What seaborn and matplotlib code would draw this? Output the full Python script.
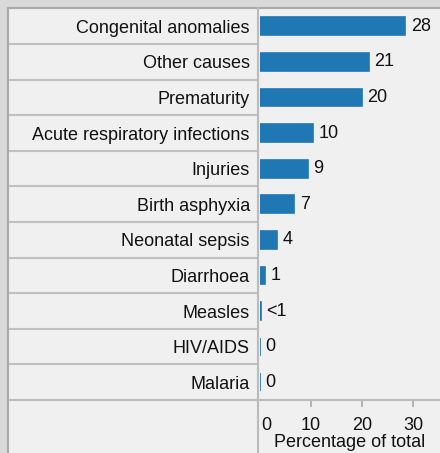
import pandas as pd
import numpy as np
import matplotlib
matplotlib.use("Agg")
import matplotlib.pyplot as plt
import matplotlib.transforms as mtransforms
from matplotlib.patches import Rectangle
from matplotlib.lines import Line2D
import seaborn as sns

# data
causes = ["Congenital anomalies", "Other causes", "Prematurity",
          "Acute respiratory infections", "Injuries", "Birth asphyxia",
          "Neonatal sepsis", "Diarrhoea", "Measles", "HIV/AIDS", "Malaria"]
values = [28.4, 21.3, 20.0, 10.4, 9.4, 6.8, 3.5, 1.0, 0.3, 0.0, 0.0]
value_labels = ["28", "21", "20", "10", "9", "7", "4", "1", "<1", "0", "0"]
xticks = [0, 10, 20, 30]

df = pd.DataFrame({"cause": causes, "pct": values})

sns.set_theme(style="white")
plt.rcParams["font.family"] = ["Liberation Sans", "DejaVu Sans"]
plt.rcParams["xtick.bottom"] = True
plt.rcParams["xtick.major.size"] = 5
plt.rcParams["xtick.major.width"] = 1.2
plt.rcParams["xtick.color"] = "#aaaaaa"

W, H = 440, 453
fig = plt.figure(figsize=(W / 100, H / 100), dpi=100, facecolor="#f0f0f0")

def fx(px):
    return px / W

def fy(py):
    return 1 - py / H

# outer grey frame
fig.patches.append(Rectangle((0, 0), fx(8), 1, transform=fig.transFigure,
                             facecolor="#d9d9d9", edgecolor="none", zorder=0))
fig.patches.append(Rectangle((0, fy(8)), 1, 1 - fy(8), transform=fig.transFigure,
                             facecolor="#d9d9d9", edgecolor="none", zorder=0))
fig.lines.append(Line2D([fx(8), fx(8)], [0, fy(8)], transform=fig.transFigure,
                        color="#aaaaaa", lw=1.5))
fig.lines.append(Line2D([fx(8), 1], [fy(8), fy(8)], transform=fig.transFigure,
                        color="#aaaaaa", lw=1.5))

top, bottom = 8.5, 400
x0 = 259.5
ax = fig.add_axes([fx(x0), fy(bottom), 1 - fx(x0), (bottom - top) / H])
ax.set_facecolor("#f0f0f0")

sns.barplot(data=df, x="pct", y="cause", orient="h", color="#1f77b4",
            saturation=1, width=0.5, linewidth=1.2, edgecolor="#1f77b4", ax=ax)

ax.bar_label(ax.containers[0], labels=value_labels, padding=4, fontsize=13,
             color="#111111")

ax.set_xlim(0, 35.2)
ax.set_ylim(len(causes) - 0.5, -0.5)
ax.set_xticks(xticks)
ax.set_xticklabels([str(t) for t in xticks])
ax.tick_params(axis="x", direction="out", length=5, width=1.2, color="#aaaaaa",
               labelsize=13, labelcolor="#111111", pad=7, bottom=True)
ax.tick_params(axis="y", length=0, labelsize=13, labelcolor="#111111", pad=7)
ax.set_ylabel("")
ax.set_xlabel("Percentage of total", fontsize=13, color="#111111", labelpad=0)

for i, t in enumerate(ax.xaxis.get_major_ticks()):
    t.tick1line.set_visible(i > 0)
    t.tick1line.set_markersize(5)
    t.tick1line.set_markeredgewidth(1.2)
    t.tick1line.set_markeredgecolor("#aaaaaa")

# nudge the 0 label off the vertical line
lab0 = ax.get_xticklabels()[0]
lab0.set_transform(lab0.get_transform() +
                   mtransforms.ScaledTranslation(7 / 100, 0, fig.dpi_scale_trans))

for side in ["top", "right", "left"]:
    ax.spines[side].set_visible(False)
ax.spines["bottom"].set_color("#bbbbbb")
ax.spines["bottom"].set_linewidth(1.5)

# row separators in the label column
blend = mtransforms.blended_transform_factory(fig.transFigure, ax.transData)
for i in range(len(causes)):
    ax.plot([fx(9), fx(257.5)], [i - 0.5, i - 0.5], transform=blend,
            color="#c0c0c0", lw=1.5, clip_on=False)
ax.plot([fx(9), fx(259)], [len(causes) - 0.5] * 2, transform=blend,
        color="#bbbbbb", lw=1.5, clip_on=False)
# vertical line from top to the bottom of the picture
fig.lines.append(Line2D([fx(258), fx(258)], [0, fy(8)],
                        transform=fig.transFigure, color="#bbbbbb", lw=1.5))

fig.savefig("out.png", dpi=100, facecolor=fig.get_facecolor())
